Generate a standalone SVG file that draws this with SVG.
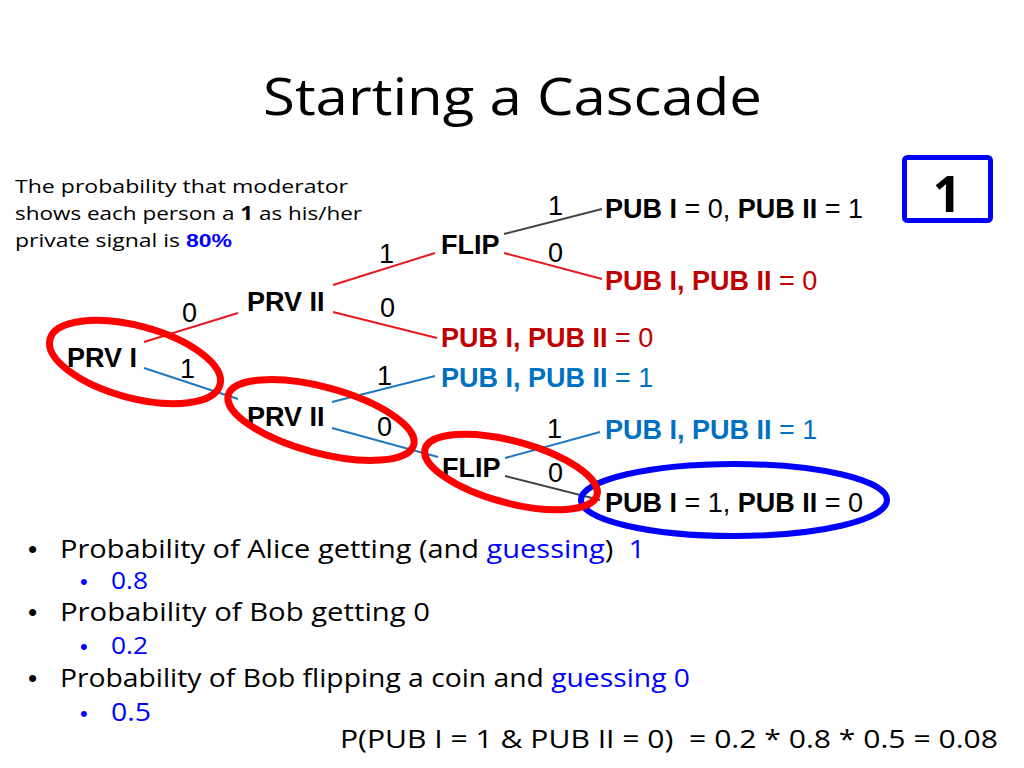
<svg xmlns="http://www.w3.org/2000/svg" width="1024" height="768" viewBox="0 0 1024 768">
<style>
.comic{font-family:"Open Sans","Noto Sans",sans-serif;fill:#000;white-space:pre}
.t{font-family:"Liberation Sans",Arial,sans-serif;font-size:27px;fill:#000}
.b{font-weight:bold}
.red{fill:#C00000}
.blu{fill:#0070C0}
.bl2{fill:#0000FF}
.dot{font-family:"Liberation Sans",Arial,sans-serif}
.lr{stroke:#E8191F;stroke-width:2;fill:none}
.lb{stroke:#1F78C1;stroke-width:2;fill:none}
.lg{stroke:#444;stroke-width:2;fill:none}
.er{stroke:#FF0000;stroke-width:7;fill:none}
.eb{stroke:#0000FF;stroke-width:6;fill:none}
</style>
<rect width="1024" height="768" fill="#fff"/>
<text class="comic" x="263" y="115" font-size="52" textLength="499" lengthAdjust="spacingAndGlyphs">Starting a Cascade</text>

<g id="note">
<text class="comic" x="15" y="193" font-size="19" textLength="333" lengthAdjust="spacingAndGlyphs">The probability that moderator</text>
<text class="comic" x="15" y="220" font-size="19" textLength="347" lengthAdjust="spacingAndGlyphs">shows each person a <tspan font-weight="bold">1</tspan> as his/her</text>
<text class="comic" x="15" y="247" font-size="19" textLength="217" lengthAdjust="spacingAndGlyphs">private signal is <tspan font-weight="bold" fill="#0000FF" font-family="Liberation Sans, sans-serif">80%</tspan></text>
</g>

<g id="badge">
<rect x="904.5" y="157.5" width="86" height="63" rx="3" fill="#fff" stroke="#0000FF" stroke-width="5"/>
<text class="comic b" x="947" y="212" font-size="50" text-anchor="middle">1</text>
</g>

<g id="connectors">
<line class="lr" x1="144" y1="342" x2="238" y2="313"/>
<line class="lb" x1="144" y1="368" x2="238" y2="399"/>
<line class="lr" x1="333" y1="285" x2="435" y2="253"/>
<line class="lr" x1="333" y1="312" x2="437" y2="338"/>
<line class="lg" x1="504" y1="234" x2="602" y2="209"/>
<line class="lr" x1="504" y1="253" x2="602" y2="279"/>
<line class="lb" x1="332" y1="402" x2="435" y2="376"/>
<line class="lb" x1="332" y1="428" x2="438" y2="457"/>
<line class="lb" x1="505" y1="458" x2="600" y2="432"/>
<line class="lg" x1="505" y1="476" x2="600" y2="500"/>
<text class="t" x="182" y="322">0</text>
<text class="t" x="180" y="378">1</text>
<text class="t" x="379" y="263">1</text>
<text class="t" x="380" y="317">0</text>
<text class="t" x="548" y="215">1</text>
<text class="t" x="548" y="262">0</text>
<text class="t" x="377" y="385">1</text>
<text class="t" x="377" y="436">0</text>
<text class="t" x="547" y="438">1</text>
<text class="t" x="548" y="482">0</text>
</g>

<g id="prv1"><text class="t b" x="67" y="367">PRV I</text></g>
<g id="prv2a"><text class="t b" x="247" y="311">PRV II</text></g>
<g id="prv2b"><text class="t b" x="247" y="426">PRV II</text></g>
<g id="flipa"><text class="t b" x="441" y="254">FLIP</text></g>
<g id="flipb"><text class="t b" x="442" y="477">FLIP</text></g>
<g id="out1"><text class="t" x="605" y="218"><tspan class="b">PUB I</tspan> = 0, <tspan class="b">PUB II</tspan> = 1</text></g>
<g id="out2"><text class="t red" x="605" y="290"><tspan class="b">PUB I, PUB II</tspan> = 0</text></g>
<g id="out3"><text class="t red" x="441" y="347"><tspan class="b">PUB I, PUB II</tspan> = 0</text></g>
<g id="out4"><text class="t blu" x="441" y="387"><tspan class="b">PUB I, PUB II</tspan> = 1</text></g>
<g id="out5"><text class="t blu" x="605" y="439"><tspan class="b">PUB I, PUB II</tspan> = 1</text></g>
<g id="out6"><text class="t" x="605" y="512"><tspan class="b">PUB I</tspan> = 1, <tspan class="b">PUB II</tspan> = 0</text></g>

<g id="highlights">
<ellipse class="eb" cx="734" cy="500" rx="153" ry="36"/>
<ellipse class="er" cx="135" cy="362" rx="88" ry="36" transform="rotate(15 135 362)"/>
<ellipse class="er" cx="321" cy="420" rx="96" ry="33" transform="rotate(15 321 420)"/>
<ellipse class="er" cx="511" cy="472" rx="89" ry="31" transform="rotate(15 511 472)"/>
</g>

<g id="bullets">
<text class="dot" x="28" y="558" font-size="26">•</text>
<text class="comic" x="60" y="558" font-size="26" textLength="585" lengthAdjust="spacingAndGlyphs">Probability of Alice getting (and <tspan class="bl2">guessing</tspan>)  <tspan class="bl2">1</tspan></text>
<text class="dot bl2" x="80" y="589" font-size="22">•</text>
<text class="comic bl2" x="111" y="589" font-size="24" textLength="37" lengthAdjust="spacingAndGlyphs">0.8</text>
<text class="dot" x="28" y="621" font-size="26">•</text>
<text class="comic" x="60" y="621" font-size="26" textLength="370" lengthAdjust="spacingAndGlyphs">Probability of Bob getting 0</text>
<text class="dot bl2" x="80" y="654" font-size="22">•</text>
<text class="comic bl2" x="111" y="654" font-size="24" textLength="37" lengthAdjust="spacingAndGlyphs">0.2</text>
<text class="dot" x="28" y="687" font-size="26">•</text>
<text class="comic" x="60" y="687" font-size="26" textLength="630" lengthAdjust="spacingAndGlyphs">Probability of Bob flipping a coin and <tspan class="bl2">guessing 0</tspan></text>
<text class="dot bl2" x="80" y="721" font-size="22">•</text>
<text class="comic bl2" x="111" y="721" font-size="26" textLength="40" lengthAdjust="spacingAndGlyphs">0.5</text>
<text class="comic" x="340" y="748" font-size="26" textLength="658" lengthAdjust="spacingAndGlyphs">P(PUB I = 1 &amp; PUB II = 0)  = 0.2 * 0.8 * 0.5 = 0.08</text>
</g>
</svg>
